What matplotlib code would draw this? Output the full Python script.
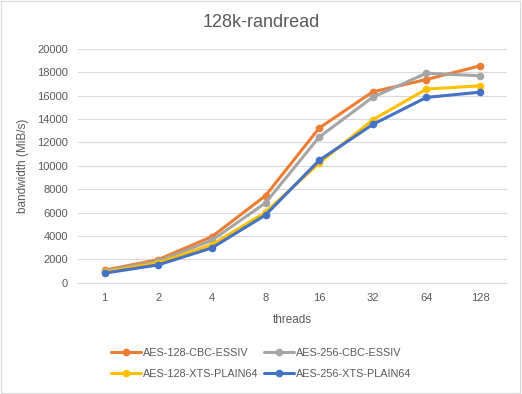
import matplotlib
matplotlib.use("Agg")
import matplotlib.pyplot as plt
from matplotlib.patches import Rectangle

threads = ["1", "2", "4", "8", "16", "32", "64", "128"]

aes128_cbc = [1080, 1990, 3950, 7450, 13230, 16330, 17380, 18550]
aes256_cbc = [1000, 1850, 3640, 6830, 12460, 15870, 17920, 17700]
aes128_xts = [910, 1710, 3270, 6030, 10240, 13940, 16560, 16840]
aes256_xts = [830, 1540, 2990, 5800, 10470, 13540, 15850, 16300]

series = [
    ("AES-128-CBC-ESSIV", aes128_cbc, "#ED7D31"),
    ("AES-256-CBC-ESSIV", aes256_cbc, "#A5A5A5"),
    ("AES-128-XTS-PLAIN64", aes128_xts, "#FFC000"),
    ("AES-256-XTS-PLAIN64", aes256_xts, "#4472C4"),
]

TXT = "#595959"
plt.rcParams["font.family"] = ["Liberation Sans", "DejaVu Sans"]

fig = plt.figure(figsize=(5.22, 3.94), dpi=100)
ax = fig.add_axes([0.149, 0.282, 0.822, 0.594])

xs = list(range(len(threads)))
lines = []
for label, ys, color in series:
    ln, = ax.plot(xs, ys, color=color, linewidth=2.2, marker="o", markersize=4.5,
                  label=label, solid_capstyle="round")
    lines.append(ln)

ax.set_xlim(-0.5, len(threads) - 0.5)
ax.set_ylim(0, 20000)
ax.set_yticks(range(0, 20001, 2000))
ax.set_xticks(xs)
ax.set_xticklabels(threads)
ax.grid(axis="y", color="#D9D9D9", linewidth=0.8)
ax.set_axisbelow(True)
for s in ("top", "right", "left"):
    ax.spines[s].set_visible(False)
ax.spines["bottom"].set_color("#D9D9D9")
ax.tick_params(length=0, labelsize=8, colors=TXT, pad=7)

ax.set_xlabel("threads", fontsize=8.5, color=TXT, labelpad=8)
ax.set_ylabel("bandwidth (MiB/s)", fontsize=8.5, color=TXT, labelpad=6)
fig.text(0.5, 0.944, "128k-randread", ha="center", va="center",
         fontsize=13, color=TXT)

# matplotlib fills legend columns first; reorder so rows read like the original
order = [0, 2, 1, 3]
fig.legend([lines[i] for i in order], [series[i][0] for i in order],
           loc="center", bbox_to_anchor=(0.5, 0.077), ncol=2, frameon=False,
           fontsize=7.8, labelcolor=TXT, handlelength=2.8, handletextpad=0.15,
           columnspacing=0.5, labelspacing=1.0)

fig.patches.append(Rectangle((0.002, 0.002), 0.995, 0.995, transform=fig.transFigure,
                             fill=False, edgecolor="#D9D9D9", linewidth=0.8))

fig.savefig("out.png", dpi=100)
